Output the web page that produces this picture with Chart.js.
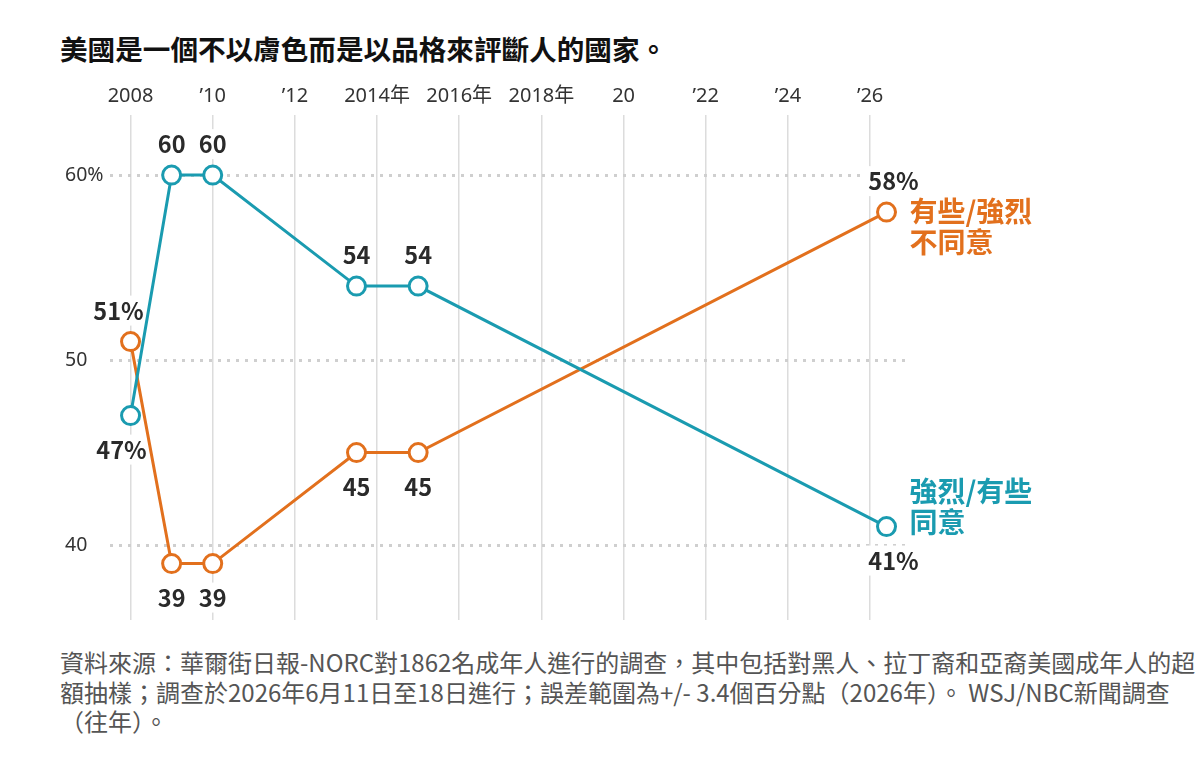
<!DOCTYPE html>
<html lang="zh-Hant">
<head>
<meta charset="utf-8">
<title>美國是一個不以膚色而是以品格來評斷人的國家</title>
<script src="https://cdn.jsdelivr.net/npm/chart.js@4/dist/chart.umd.min.js"></script>
<style>
  html, body { margin:0; padding:0; background:#fff; }
  body { width:1200px; height:780px; position:relative; overflow:hidden;
         font-family:"Noto Sans CJK TC","Noto Sans",sans-serif; }
  #titulo { position:absolute; left:60px; top:28px; font-size:27.6px; font-weight:700; color:#111; margin:0; line-height:40px; }
  #lienzo { position:absolute; left:0; top:0; width:1200px; height:640px; }
  #nota { position:absolute; left:60px; top:647px; width:1138px; font-size:24px; line-height:29.5px; color:#555; margin:0; }
</style>
</head>
<body>
<h1 id="titulo">美國是一個不以膚色而是以品格來評斷人的國家。</h1>
<div id="lienzo"><canvas id="chart"></canvas></div>
<p id="nota">資料來源：華爾街日報-NORC對1862名成年人進行的調查，其中包括對黑人、拉丁裔和亞裔美國成年人的超額抽樣；調查於2026年6月11日至18日進行；誤差範圍為+/- 3.4個百分點（2026年）。 WSJ/NBC新聞調查（往年）。</p>

<script>
// datos
const years      = [2008, 2009, 2010, 2013.5, 2015, 2026.4];
const agree      = [47, 60, 60, 54, 54, 41];
const disagree   = [51, 39, 39, 45, 45, 58];
const agreeText    = ['47%', '60', '60', '54', '54', '41%'];
const disagreeText = ['51%', '39', '39', '45', '45', '58%'];

const xTicks      = [2008, 2010, 2012, 2014, 2016, 2018, 2020, 2022, 2024, 2026];
const xTickLabels = ['2008', '\u201910', '\u201912', '2014年', '2016年', '2018年', '20', '\u201922', '\u201924', '\u201926'];
const yTicks      = [40, 50, 60];
const yTickLabels = ['40', '50', '60%'];

const agreeName    = ['強烈/有些', '同意'];
const disagreeName = ['有些/強烈', '不同意'];

// colocación de etiquetas (arriba/abajo y corrimiento horizontal en px)
const agreeSide    = ['below', 'above', 'above', 'above', 'above', 'below'];
const disagreeSide = ['above', 'below', 'below', 'below', 'below', 'above'];
const agreeShift    = [-9, 0, 0, 0, 0, 7];
const disagreeShift = [-12, 0, 0, 0, 0, 7];

const BLUE = '#1a9bb0', ORANGE = '#e2701d', INK = '#2a2a2a';
const FONT = '"Noto Sans CJK TC","Noto Sans",sans-serif';
const LATIN = '"Noto Sans","Noto Sans CJK TC",sans-serif';
Chart.defaults.font.family = FONT;

// etiquetas de valores con fondo blanco
const labelPlugin = {
  id: 'valueLabels',
  boxes(chart){
    const out = [];
    const sets = [[agreeText, agreeSide, agreeShift], [disagreeText, disagreeSide, disagreeShift]];
    sets.forEach(([txt, side, dx], di) => {
      const meta = chart.getDatasetMeta(di);
      meta.data.forEach((p, i) => {
        const y = side[i] === 'above' ? p.y - 31 : p.y + 34;
        out.push({ x: p.x + dx[i], y, t: txt[i] });
      });
    });
    return out;
  },
  beforeDatasetsDraw(chart){
    const ctx = chart.ctx;
    ctx.save();
    ctx.font = `700 23.5px ${FONT}`;
    ctx.fillStyle = '#fff';
    for (const b of this.boxes(chart)) {
      const w = ctx.measureText(b.t).width + 6;
      ctx.fillRect(b.x - w/2, b.y - 15, w, 30);
    }
    ctx.restore();
  },
  afterDatasetsDraw(chart){
    const ctx = chart.ctx;
    ctx.save();
    ctx.font = `700 23.5px ${FONT}`;
    ctx.fillStyle = INK;
    ctx.textAlign = 'center';
    ctx.textBaseline = 'middle';
    for (const b of this.boxes(chart)) ctx.fillText(b.t, b.x, b.y);

    // nombres de series
    ctx.font = `700 28px ${FONT}`;
    ctx.textAlign = 'left';
    const pO = chart.getDatasetMeta(1).data[years.length - 1];
    const pB = chart.getDatasetMeta(0).data[years.length - 1];
    ctx.fillStyle = ORANGE;
    disagreeName.forEach((s, i) => ctx.fillText(s, pO.x + 23, pO.y - 1 + i * 31));
    ctx.fillStyle = BLUE;
    agreeName.forEach((s, i) => ctx.fillText(s, pB.x + 23, pB.y - 4 - (agreeName.length - 1 - i) * 31));
    ctx.restore();
  }
};

const serie = (label, data, color) => ({
  label, data: years.map((x, i) => ({ x, y: data[i] })),
  borderColor: color, borderWidth: 3,
  pointRadius: 9, pointBorderWidth: 3, pointBackgroundColor: '#fff', pointBorderColor: color,
  pointHoverRadius: 9, tension: 0
});

new Chart(document.getElementById('chart').getContext('2d'), {
  type: 'line',
  data: { datasets: [
    serie('強烈/有些同意', agree, BLUE),
    serie('有些/強烈不同意', disagree, ORANGE)
  ]},
  options: {
    responsive: true, maintainAspectRatio: false, animation: false,
    events: [],
    layout: { padding: { left: 65, top: 75, right: 295, bottom: 20 } },
    plugins: { legend: { display: false }, tooltip: { enabled: false } },
    scales: {
      x: {
        type: 'linear', position: 'top', min: 2007.5, max: 2026.85,
        afterBuildTicks: s => { s.ticks = xTicks.map(v => ({ value: v })); },
        afterFit: s => { s.height = 40; },
        ticks: { color: '#333', font: { size: 20, family: LATIN }, padding: 7, maxRotation: 0, autoSkip: false,
                 callback: v => xTickLabels[xTicks.indexOf(v)] },
        grid: { color: '#dcdcdc', lineWidth: 1.5, drawTicks: false },
        border: { display: false }
      },
      y: {
        min: 35.95, max: 63.25,
        afterBuildTicks: s => { s.ticks = yTicks.map(v => ({ value: v })); },
        afterFit: s => { s.width = 45; },
        ticks: { color: '#333', font: { size: 19.5, family: LATIN }, crossAlign: 'far', padding: 6,
                 callback: v => yTickLabels[yTicks.indexOf(v)] },
        grid: { color: '#cfcfcf', lineWidth: 3, drawTicks: false },
        border: { display: false, dash: [3, 6] }
      }
    }
  },
  plugins: [labelPlugin]
});
</script>
</body>
</html>
